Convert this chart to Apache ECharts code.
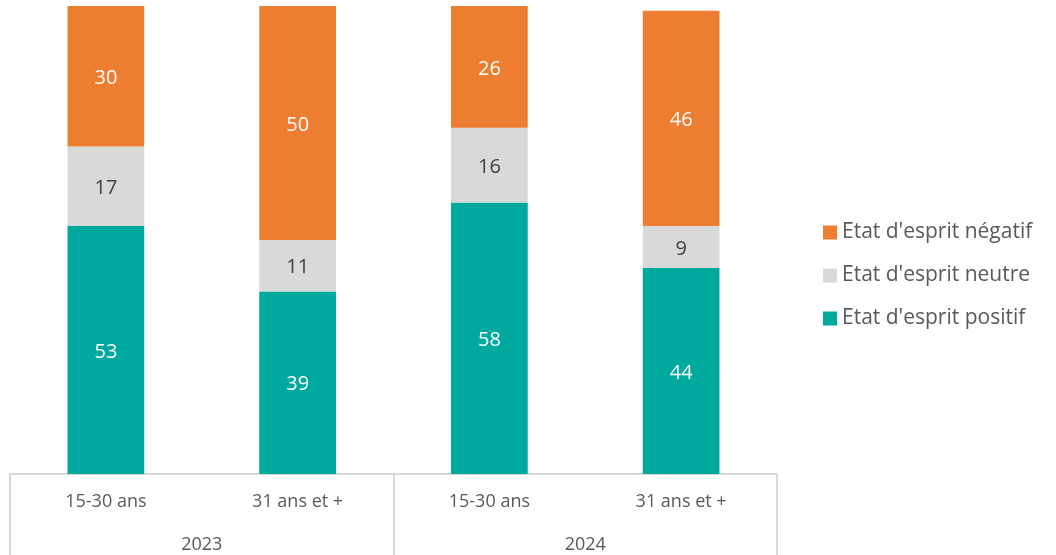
<!DOCTYPE html>
<html>
<head>
<meta charset="utf-8">
<script src="https://cdn.jsdelivr.net/npm/echarts@6/dist/echarts.min.js"></script>
<style>
  html, body { margin: 0; padding: 0; background: #fff; }
  #chart { width: 1056px; height: 555px; }
</style>
</head>
<body>
<div id="chart"></div>
<script>
const ageGroups = ['15-30 ans', '31 ans et +', '15-30 ans', '31 ans et +']
const years = ['2023', '2024']
const positif = [53, 39, 58, 44]
const neutre = [17, 11, 16, 9]
const negatif = [30, 50, 26, 46]

const font = 'Open Sans'

function barSeries(name, data, color, labelColor) {
  return {
    name: name,
    type: 'bar',
    stack: 'total',
    barWidth: '40%',
    xAxisIndex: 0,
    itemStyle: { color: color },
    label: {
      show: true,
      color: labelColor,
      fontSize: 20,
      fontFamily: font,
      offset: [0, 2]
    },
    data: data
  }
}

const chart = echarts.init(document.getElementById('chart'))
chart.setOption({
  animation: false,
  textStyle: { fontFamily: font },
  grid: {
    top: 6,
    bottom: 81,
    left: 10,
    right: 279,
    containLabel: false
  },
  legend: {
    orient: 'vertical',
    left: 818,
    top: 213,
    itemWidth: 14,
    itemHeight: 14,
    itemGap: 14,
    icon: 'rect',
    textStyle: { fontSize: 21, lineHeight: 29, color: '#595959', fontFamily: font },
    data: ["Etat d'esprit négatif", "Etat d'esprit neutre", "Etat d'esprit positif"]
  },
  xAxis: [
    {
      type: 'category',
      position: 'bottom',
      data: ageGroups,
      axisLine: { lineStyle: { color: '#d9d9d9', width: 2 } },
      axisTick: { show: false },
      axisLabel: { margin: 19, fontSize: 18, color: '#595959', fontFamily: font }
    },
    {
      type: 'category',
      position: 'bottom',
      offset: 0,
      data: years,
      axisLine: { show: false },
      axisTick: {
        show: true,
        length: 81,
        lineStyle: { color: '#d9d9d9', width: 2 }
      },
      axisLabel: { margin: 62, fontSize: 18, color: '#595959', fontFamily: font }
    }
  ],
  yAxis: {
    type: 'value',
    min: 0,
    max: 100,
    show: false
  },
  series: [
    barSeries("Etat d'esprit positif", positif, '#00A99D', '#ffffff'),
    barSeries("Etat d'esprit neutre", neutre, '#D9D9D9', '#404040'),
    barSeries("Etat d'esprit négatif", negatif, '#ED7D31', '#ffffff')
  ]
}, true)
</script>
</body>
</html>
